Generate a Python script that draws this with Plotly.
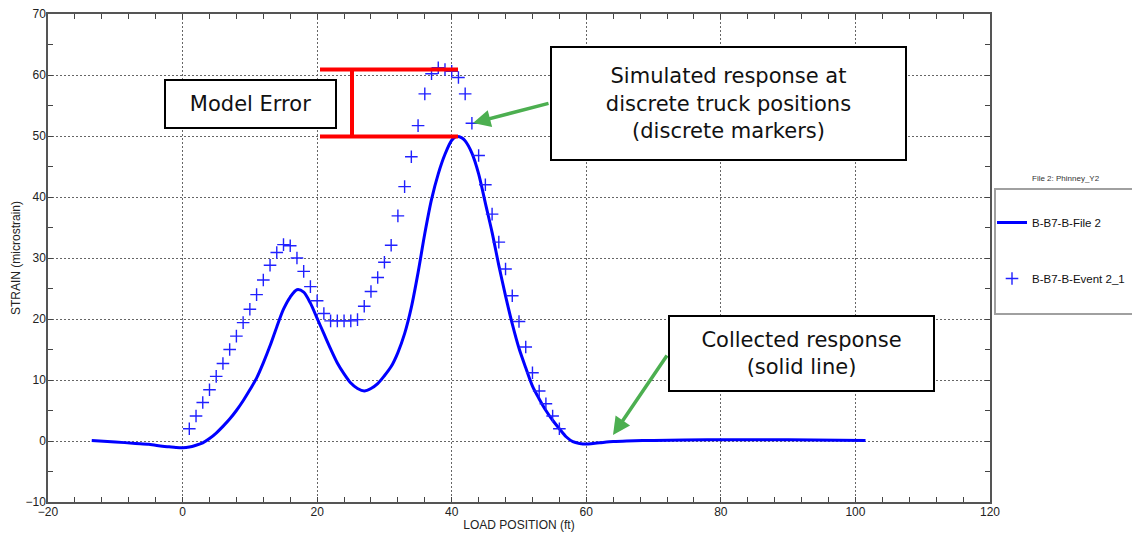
import plotly.graph_objects as go

# ---------------- data ----------------
line_x = [-13.5, -10, -7, -5, -3, -2, -1, 0, 1, 2, 3, 4, 5, 6, 7, 8, 9, 10, 11, 12, 13, 14, 15,
          16, 17, 18, 19, 20, 21, 22, 23, 24, 25, 26, 27, 28, 29, 30, 31, 32, 33, 34, 35, 36,
          37, 38, 39, 40, 40.7, 41.5, 42, 43, 44, 45, 46, 47, 48, 49, 50, 51, 52, 53, 54, 55,
          56, 57, 58, 59, 60, 61, 62, 64, 66, 70, 78, 90, 101.5]
line_y = [0.1, -0.15, -0.4, -0.55, -0.85, -0.95, -1.05, -1.1, -1.0, -0.7, -0.3, 0.4, 1.3, 2.4,
          3.6, 5.0, 6.6, 8.4, 10.3, 12.8, 15.6, 18.7, 21.6, 23.6, 24.8, 24.4, 22.6, 20.1, 17.6,
          15.1, 12.8, 11.0, 9.5, 8.6, 8.2, 8.6, 9.4, 10.7, 12.2, 14.5, 17.6, 21.9, 27.6, 34.0,
          39.6, 43.8, 47.0, 49.3, 49.9, 49.7, 49.2, 47.2, 43.8, 39.0, 34.2, 28.8, 23.8, 19.2,
          15.2, 12.0, 9.0, 6.9, 5.0, 3.4, 2.0, 0.7, -0.1, -0.4, -0.5, -0.4, -0.3, -0.1, 0.0,
          0.1, 0.2, 0.2, 0.1]

marker_x = list(range(1, 57))
marker_y = [2.0, 4.1, 6.3, 8.4, 10.6, 12.7, 15.0, 17.2, 19.4, 21.6, 24.0, 26.4, 28.8, 30.9,
            32.2, 32.0, 30.0, 27.8, 25.3, 23.0, 20.9, 19.7, 19.7, 19.7, 19.7, 19.9, 22.1, 24.5,
            26.8, 29.3, 32.1, 36.9, 41.7, 46.6, 51.7, 56.9, 60.2, 61.2, 60.9, 60.6, 59.6, 56.9,
            52.1, 46.8, 42.0, 37.2, 32.6, 28.2, 23.8, 19.6, 15.4, 11.2, 8.2, 6.1, 4.1, 2.0]

x_ticks = [-20, 0, 20, 40, 60, 80, 100, 120]
y_ticks = [-10, 0, 10, 20, 30, 40, 50, 60, 70]

series_names = ["B-B7-B-File 2", "B-B7-B-Event 2_1"]
legend_title = "File 2: Phinney_Y2"
x_title = "LOAD POSITION (ft)"
y_title = "STRAIN (microstrain)"

# ---------------- layout geometry ----------------
W, H = 1132, 535
L, R, T, B = 48, 142, 14, 33
X0, X1 = -20, 120
Y0, Y1 = -10, 70


def dx(px):
    return X0 + (px - L) / (W - L - R) * (X1 - X0)


def dy(py):
    return Y0 + (H - B - py) / (H - T - B) * (Y1 - Y0)


def paper_x(px):
    return (px - L) / (W - L - R)


def paper_y(py):
    return (H - B - py) / (H - T - B)


fig = go.Figure()
fig.add_trace(go.Scatter(
    x=line_x, y=line_y, mode="lines", name=series_names[0],
    line=dict(color="#0000ff", width=3, shape="spline", smoothing=0.8),
    legendgroup="a"))
fig.add_trace(go.Scatter(
    x=marker_x, y=marker_y, mode="markers", name=series_names[1],
    marker=dict(symbol="cross-thin", size=9, color="#2020ff",
                line=dict(color="#2020ff", width=1.4)),
    legendgroup="b"))

axis_font = dict(family="Liberation Sans, Arial, sans-serif", size=12, color="#222")
common_axis = dict(
    showline=True, linecolor="#555", linewidth=1.5, mirror="allticks",
    ticks="inside", ticklen=5, tickcolor="#444", tickwidth=1,
    showgrid=True, gridcolor="#666", gridwidth=1, griddash="2px,2px",
    zeroline=False, tickfont=axis_font,
)

fig.update_xaxes(range=[X0, X1], tickvals=x_ticks, ticklabelstandoff=-2,
                 minor=dict(dtick=4, ticks="inside", ticklen=5, tickcolor="#444", showgrid=False),
                 title=dict(text=x_title, font=axis_font, standoff=2), **common_axis)
fig.update_yaxes(range=[Y0, Y1], tickvals=y_ticks, ticklabelstandoff=-2,
                 minor=dict(dtick=5, ticks="inside", ticklen=5, tickcolor="#444", showgrid=False),
                 title=dict(text=y_title, font=axis_font, standoff=2), **common_axis)

shapes = []
# legend frame
shapes.append(dict(type="rect", xref="paper", yref="paper",
                   x0=paper_x(995), x1=paper_x(1140), y0=paper_y(314), y1=paper_y(189),
                   line=dict(color="#a0a0a0", width=2), fillcolor="rgba(0,0,0,0)"))
# model error bracket (red)
red = dict(color="#ff0000", width=4)
shapes.append(dict(type="line", xref="x", yref="y", x0=dx(320), x1=dx(458), y0=dy(69.5), y1=dy(69.5), line=red))
shapes.append(dict(type="line", xref="x", yref="y", x0=dx(320), x1=dx(458), y0=dy(136.5), y1=dy(136.5), line=red))
shapes.append(dict(type="line", xref="x", yref="y", x0=dx(352), x1=dx(352), y0=dy(69.5), y1=dy(136.5), line=red))

ann_font = dict(family="DejaVu Sans, Verdana, sans-serif", size=21, color="#111")
green = "#4caf50"
annotations = [
    # arrows
    dict(x=dx(473), y=dy(123), ax=dx(550), ay=dy(103), xref="x", yref="y", axref="x", ayref="y",
         text="", showarrow=True, arrowhead=2, arrowsize=1, arrowwidth=3.5, arrowcolor=green),
    dict(x=dx(613), y=dy(435), ax=dx(668), ay=dy(354), xref="x", yref="y", axref="x", ayref="y",
         text="", showarrow=True, arrowhead=2, arrowsize=1, arrowwidth=3.5, arrowcolor=green),
    # text boxes
    dict(x=dx(250.8), y=dy(103.7), xref="x", yref="y", text="Model Error", showarrow=False,
         width=169, height=46, bgcolor="white", bordercolor="black", borderwidth=2, borderpad=0,
         font=ann_font, xanchor="center", yanchor="middle", align="center"),
    dict(x=dx(728), y=dy(103.4), xref="x", yref="y",
         text="Simulated response at<br>discrete truck positions<br>(discrete markers)",
         showarrow=False, width=353, height=111, bgcolor="white", bordercolor="black",
         borderwidth=2, borderpad=0, font=ann_font, xanchor="center", yanchor="middle", align="center"),
    dict(x=dx(801.7), y=dy(353.7), xref="x", yref="y",
         text="Collected response<br>(solid line)",
         showarrow=False, width=263, height=73, bgcolor="white", bordercolor="black",
         borderwidth=2, borderpad=0, font=ann_font, xanchor="center", yanchor="middle", align="center"),
    # legend title
    dict(x=paper_x(1066), y=paper_y(178), xref="paper", yref="paper", text=legend_title,
         showarrow=False, font=dict(family="Liberation Sans, Arial, sans-serif", size=8, color="#333"),
         xanchor="center", yanchor="middle"),
]

fig.update_layout(
    width=W, height=H,
    margin=dict(l=L, r=R, t=T, b=B, autoexpand=False),
    paper_bgcolor="white", plot_bgcolor="white",
    font=dict(family="Liberation Sans, Arial, sans-serif", color="#222"),
    shapes=shapes, annotations=annotations,
    showlegend=True,
    legend=dict(x=paper_x(992), y=paper_y(208), xanchor="left", yanchor="top",
                bgcolor="rgba(0,0,0,0)", borderwidth=0, tracegroupgap=37,
                font=dict(family="Liberation Sans, Arial, sans-serif", size=11.5, color="#111"),
                itemwidth=30),
)

fig.write_html("out.html")
